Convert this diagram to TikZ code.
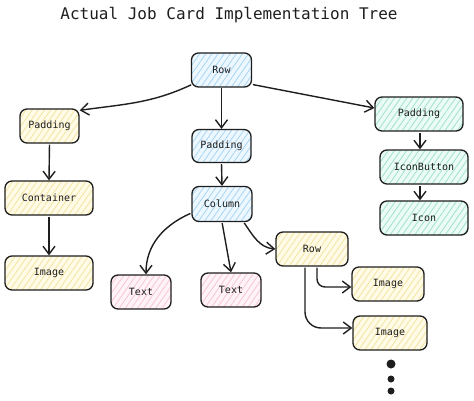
\documentclass[tikz,border=0pt]{standalone}
\usepackage{fontspec}
\setmonofont{DejaVu Sans Mono}
\usetikzlibrary{arrows.meta,patterns.meta}

\definecolor{ink}{HTML}{1E1E1E}
\definecolor{ylwfill}{HTML}{FFFBE6}
\definecolor{ylwline}{HTML}{F3E3A2}
\definecolor{blufill}{HTML}{ECF7FF}
\definecolor{bluline}{HTML}{AAD5F1}
\definecolor{grnfill}{HTML}{EBFBF5}
\definecolor{grnline}{HTML}{A2E2CA}
\definecolor{pnkfill}{HTML}{FFF3F8}
\definecolor{pnkline}{HTML}{F4C6D8}

\begin{document}
\begin{tikzpicture}[x=1pt,y=1pt,
    box/.style={draw=ink,line width=1.3pt,rounded corners=7pt,minimum height=34pt,
      inner sep=0pt,text=ink,font=\ttfamily\fontsize{10}{12}\selectfont,
      pattern={Lines[angle=55,distance=5pt,line width=0.8pt]}},
    ylw/.style={box,preaction={fill=ylwfill},pattern color=ylwline},
    blu/.style={box,preaction={fill=blufill},pattern color=bluline},
    grn/.style={box,preaction={fill=grnfill},pattern color=grnline},
    pnk/.style={box,preaction={fill=pnkfill},pattern color=pnkline},
    dot/.style={fill=ink,circle,inner sep=0pt},
    arr/.style={draw=ink,line width=1.4pt,shorten <=1pt,
      -{Straight Barb[length=8pt,width=12pt]}}]
    \useasboundingbox (0,0) rectangle (474,400);

    \node (title) at (229,385) [text=ink,font=\ttfamily\fontsize{16}{18}\selectfont] {Actual Job Card Implementation Tree};

    \node (row) at (221.5,330) [blu,minimum width=60pt] {Row};
    \node (padl) at (49.5,274) [ylw,minimum width=59pt] {Padding};
    \node (padm) at (221.5,254) [blu,minimum width=59pt,minimum height=33pt] {Padding};
    \node (padr) at (419,286) [grn,minimum width=88pt] {Padding};

    \node (cont) at (49,202) [ylw,minimum width=88pt] {Container};
    \node (imgl) at (49,127) [ylw,minimum width=88pt] {Image};

    \node (col) at (222,196) [blu,minimum width=60pt,minimum height=35pt] {Column};
    \node (txta) at (141,108) [pnk,minimum width=60pt] {Text};
    \node (txtb) at (231,110) [pnk,minimum width=60pt] {Text};
    \node (row2) at (312,151) [ylw,minimum width=72pt] {Row};
    \node (imga) at (388,116) [ylw,minimum width=72pt] {Image};
    \node (imgb) at (390,67) [ylw,minimum width=74pt] {Image};

    \node (ibtn) at (424,233) [grn,minimum width=88pt] {IconButton};
    \node (icon) at (424,182) [grn,minimum width=88pt] {Icon};

    \node (dot1) at (391,36) [dot,minimum size=9pt] {};
    \node (dot2) at (391,21) [dot,minimum size=7pt] {};
    \node (dot3) at (391,9) [dot,minimum size=7pt] {};

    \draw[arr] ([xshift=1pt,yshift=3pt]row.south west) to[out=205,in=8] ([yshift=-2pt]padl.north east);
    \draw[arr] (row.south) -- (padm.north);
    \draw[arr] ([yshift=3pt]row.south east) -- ([yshift=6pt]padr.west);

    \draw[arr] (padl.south) -- (cont.north);
    \draw[arr] (cont.south) -- (imgl.north);

    \draw[arr] (padm.south) -- (col.north);
    \draw[arr] ([yshift=-9pt]col.west) to[out=204,in=90] ([xshift=5pt]txta.north);
    \draw[arr] (col.south) -- (txtb.north);
    \draw[arr] ([xshift=-9pt]col.south east) to[out=-55,in=175] (row2.west);
    \draw[arr,rounded corners=8pt] ([xshift=5pt]row2.south) |- ([yshift=-3pt]imga.west);
    \draw[arr,rounded corners=16pt] ([xshift=-7pt]row2.south) |- ([yshift=5pt]imgb.west);

    \draw[arr] ([xshift=1pt]padr.south) -- ([xshift=-4pt]ibtn.north);
    \draw[arr] ([xshift=-4pt]ibtn.south) -- ([xshift=-4pt]icon.north);
\end{tikzpicture}
\end{document}
